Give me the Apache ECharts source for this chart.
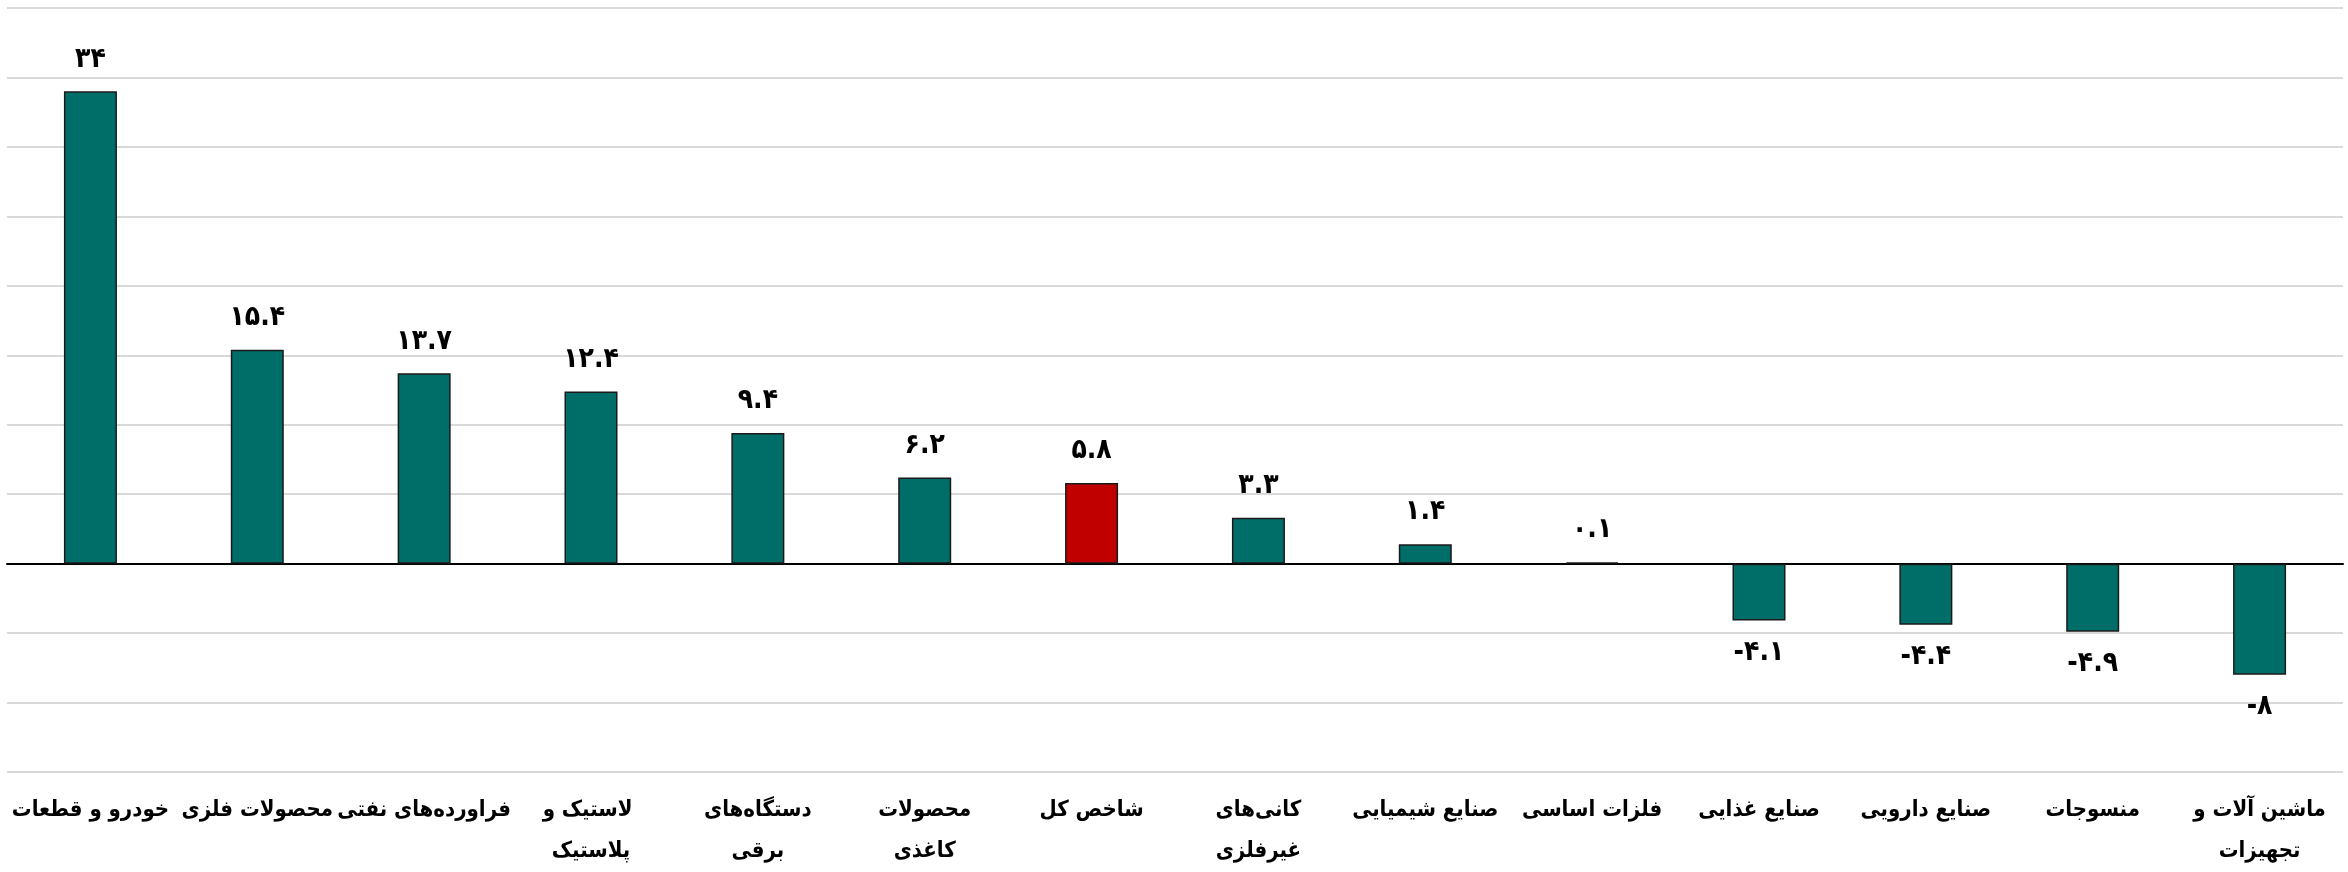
<!DOCTYPE html>
<html>
<head>
<meta charset="utf-8">
<script src="https://cdn.jsdelivr.net/npm/echarts@6/dist/echarts.min.js"></script>
<style>
  html, body { margin: 0; padding: 0; background: #fff; }
  #main { width: 2348px; height: 872px; }
</style>
</head>
<body>
<div id="main"></div>
<script>
// صنایع - درصد تغییر
var categories = [
  "خودرو و قطعات",
  "محصولات فلزی",
  "فراورده‌های نفتی",
  "لاستیک و \nپلاستیک",
  "دستگاه‌های\nبرقی",
  "محصولات\nکاغذی",
  "شاخص کل",
  "کانی‌های\nغیرفلزی",
  "صنایع شیمیایی",
  "فلزات اساسی",
  "صنایع غذایی",
  "صنایع دارویی",
  "منسوجات",
  "ماشین آلات و\nتجهیزات"
];
var values = [34, 15.4, 13.7, 12.4, 9.4, 6.2, 5.8, 3.3, 1.4, 0.1, -4.1, -4.4, -4.9, -8];
var highlight = "شاخص کل";

var faDigits = ["۰", "۱", "۲", "۳", "۴", "۵", "۶", "۷", "۸", "۹"];
function toFa(v) {
  var s = String(Math.abs(v)).replace(/[0-9]/g, function (d) { return faDigits[+d]; });
  return (v < 0 ? "-" : "") + s;
}

var myChart = echarts.init(document.getElementById("main"));

var data = values.map(function (v, i) {
  return {
    value: v,
    itemStyle: { color: categories[i] === highlight ? "#C00000" : "#006E68" },
    label: { position: v < 0 ? "bottom" : "top" }
  };
});

var option = {
  animation: false,
  textStyle: { fontFamily: "DejaVu Sans Condensed, DejaVu Sans" },
  grid: { left: 7, right: 5, top: 8, bottom: 100, outerBoundsMode: "none", containLabel: false },
  xAxis: {
    type: "category",
    data: categories,
    axisLine: { onZero: true, lineStyle: { color: "#000", width: 2 } },
    axisTick: { show: false },
    axisLabel: {
      interval: 0,
      margin: 18,
      color: "#000",
      fontSize: 22,
      fontWeight: "bold",
      lineHeight: 41,
      align: "center"
    }
  },
  yAxis: {
    type: "value",
    min: -15,
    max: 40,
    interval: 5,
    axisLabel: { show: false },
    axisLine: { show: false },
    axisTick: { show: false },
    splitLine: { lineStyle: { color: "#d9d9d9", width: 2 } }
  },
  series: [
    {
      type: "bar",
      data: data,
      barWidth: 53,
      itemStyle: { borderColor: "#1a1a1a", borderWidth: 1.5 },
      label: {
        show: true,
        distance: 18,
        color: "#000",
        fontSize: 28,
        fontWeight: "bold",
        formatter: function (p) { return toFa(p.value); }
      }
    }
  ]
};

myChart.setOption(option);
</script>
</body>
</html>
